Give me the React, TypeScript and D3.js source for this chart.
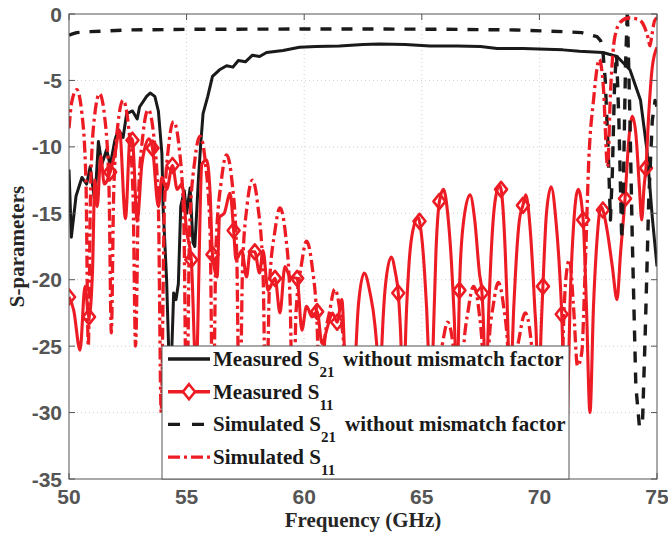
import React from 'react';
import * as d3 from 'd3';

const W = 668;
const H = 533;
const P = { left: 69, right: 657, top: 14, bottom: 479 };

const xTicks = [50, 55, 60, 65, 70, 75];
const yTicks = [0, -5, -10, -15, -20, -25, -30, -35];

// Measured S21 (black solid)
const measuredS21: [number, number][] = [
  [50.0, -11.7], [50.1, -16.8], [50.3, -13.7], [50.55, -12.3], [50.75, -12.8], [50.9, -11.5],
  [51.1, -14.2], [51.25, -9.6], [51.4, -11.3], [51.6, -10.2], [51.75, -11.4], [51.95, -9.5],
  [52.1, -8.7], [52.3, -9.3], [52.45, -7.5], [52.7, -7.3], [52.9, -7.9], [53.0, -7.0],
  [53.3, -6.2], [53.45, -5.95], [53.65, -6.2], [53.8, -7.3], [53.95, -10.5], [54.0, -14.5],
  [54.15, -20], [54.25, -26], [54.32, -28], [54.45, -21], [54.55, -21.5], [54.65, -20.3],
  [54.75, -14.5], [54.9, -13.3], [55.0, -15], [55.15, -13.1], [55.27, -17.2], [55.35, -17.5],
  [55.5, -12.5], [55.6, -9.8], [55.7, -7.5], [55.9, -6.2], [56.1, -4.7], [56.4, -4.2],
  [56.7, -3.9], [56.97, -4.0], [57.2, -3.5], [57.5, -3.6], [57.8, -3.1], [58.1, -3.2],
  [58.4, -2.9], [59.1, -2.75], [59.8, -2.5], [60.5, -2.45], [61.5, -2.4], [62.5, -2.3],
  [63.2, -2.25], [64.3, -2.3], [65.35, -2.4], [66.5, -2.4], [67.5, -2.45], [68.2, -2.6],
  [69.3, -2.6], [70.3, -2.65], [71.0, -2.7], [71.7, -2.8], [72.7, -2.9], [73.3, -3.2],
  [73.85, -4.2], [74.3, -6.5], [74.57, -10.2], [74.8, -15.3], [75.0, -19],
];

// Measured S11 (red solid, diamond markers)
const measuredS11: [number, number][] = [
  [50.0, -21.3], [50.2, -22.3], [50.47, -25.3], [50.68, -20.5], [50.85, -22.8], [51.0, -19.3],
  [51.1, -12.5], [51.2, -14.5], [51.35, -10.7], [51.5, -12.8], [51.75, -11.9], [51.95, -10.5],
  [52.15, -8.8], [52.4, -15.4], [52.6, -9.3], [52.7, -9.5], [52.9, -15.6], [53.1, -11.3],
  [53.4, -9.4], [53.55, -10.1], [53.8, -14.5], [53.95, -12.3], [54.15, -13.2], [54.4, -11.4],
  [54.6, -13.2], [54.8, -12.8], [55.0, -16.3], [55.2, -18.5], [55.4, -27], [55.65, -11.3],
  [55.85, -11.0], [56.0, -13.5], [56.1, -18.1], [56.3, -19.8], [56.4, -15.3], [56.6, -15.0],
  [56.85, -13.5], [57.0, -16.3], [57.1, -18.5], [57.35, -17.8], [57.55, -19.8], [57.7, -17.9],
  [57.9, -17.9], [58.1, -19.5], [58.25, -17.8], [58.46, -20.8], [58.76, -19.9], [58.97, -22.5],
  [59.18, -19.0], [59.4, -19.8], [59.7, -19.9], [59.9, -23.8], [60.1, -22.0], [60.33, -22.8],
  [60.55, -22.4], [60.76, -24.8], [61.0, -23.5], [61.2, -22.5], [61.4, -23.2], [61.6, -21.5],
  [61.75, -27], [61.95, -33], [62.15, -27], [62.3, -22], [62.55, -19.5], [62.8, -21],
  [63.0, -23.3], [63.12, -26], [63.2, -30], [63.3, -25], [63.45, -20.5], [63.7, -18.3],
  [63.88, -19.5], [64.0, -21], [64.12, -25], [64.22, -32], [64.3, -25], [64.45, -19],
  [64.62, -16.3], [64.85, -15.3], [64.9, -15.6], [65.1, -19], [65.27, -25], [65.37, -32],
  [65.48, -25], [65.6, -18], [65.75, -14.1], [65.92, -13.2], [66.1, -15], [66.3, -20],
  [66.42, -25], [66.5, -32], [66.55, -25], [66.6, -20.8], [66.75, -16], [67.05, -13.6],
  [67.25, -15.5], [67.45, -19.5], [67.56, -21], [67.65, -25], [67.72, -32], [67.8, -25],
  [67.95, -18], [68.1, -14.3], [68.3, -12.9], [68.37, -13.2], [68.55, -18], [68.68, -25],
  [68.76, -32], [68.85, -25], [69.0, -19], [69.15, -15.5], [69.3, -14.4], [69.42, -13.6],
  [69.6, -16], [69.8, -22], [69.88, -25], [69.95, -32], [70.05, -25], [70.15, -20.5],
  [70.3, -15], [70.5, -13], [70.7, -15.5], [70.88, -20], [70.95, -22.6], [71.02, -27],
  [71.1, -38], [71.2, -30], [71.3, -22], [71.45, -16], [71.65, -13.2], [71.86, -15.5],
  [72.0, -22], [72.15, -30], [72.3, -22], [72.45, -17], [72.62, -14.5], [72.7, -14.75],
  [72.9, -16.5], [73.1, -19], [73.3, -21.5], [73.45, -18], [73.64, -13.9], [73.8, -9.5],
  [73.95, -7.7], [74.1, -9], [74.25, -13], [74.35, -15.5], [74.45, -13], [74.53, -11.6],
  [74.65, -7.5], [74.8, -4], [75.0, -2.5],
];

const measuredS11Markers: [number, number][] = [
  [50.0, -21.3], [50.85, -22.8], [51.75, -11.9], [52.7, -9.5], [53.55, -10.1], [54.4, -11.4],
  [55.2, -18.5], [56.1, -18.1], [57.0, -16.3], [57.9, -17.9], [58.76, -19.9], [59.7, -19.9],
  [60.55, -22.4], [61.4, -23.2], [64.0, -21], [64.9, -15.6], [65.75, -14.1], [66.6, -20.8],
  [67.56, -21], [68.37, -13.2], [69.3, -14.4], [70.15, -20.5], [70.95, -22.6], [71.86, -15.5],
  [72.7, -14.75], [73.64, -13.9], [74.53, -11.6],
];

// Simulated S21 (black dashed)
const simulatedS21: [number, number][] = [
  [50.0, -1.6], [50.15, -1.5], [50.33, -1.4], [50.9, -1.33], [52.5, -1.2], [55.5, -1.15],
  [60.0, -1.13], [63.0, -1.13], [66.0, -1.15], [69.0, -1.2], [71.0, -1.33], [71.8, -1.4],
  [72.45, -1.7], [72.6, -2.0], [72.7, -2.8], [72.8, -5], [72.92, -10], [73.02, -15.5],
  [73.1, -12], [73.2, -5], [73.28, -3], [73.38, -8], [73.5, -17], [73.58, -12],
  [73.66, -4], [73.74, 0.3], [73.85, -8], [73.95, -17], [74.1, -28], [74.25, -31],
  [74.38, -31], [74.5, -24], [74.65, -14], [74.8, -8], [74.92, -6.5], [75.0, -7],
];

// Simulated S11 (red dash-dot)
const simulatedS11: [number, number][] = [
  [50.0, -8.6], [50.12, -6.6], [50.33, -5.7], [50.55, -7.5], [50.72, -12.5], [50.82, -25],
  [50.92, -13], [51.08, -7.8], [51.3, -6.0], [51.52, -7.8], [51.7, -13], [51.8, -24],
  [51.9, -13.5], [52.08, -8.3], [52.3, -6.5], [52.52, -8.3], [52.72, -13.5], [52.83, -25],
  [52.95, -14], [53.15, -9], [53.37, -7.2], [53.6, -9.1], [53.8, -14.5], [53.92, -30],
  [54.05, -15], [54.23, -10], [54.45, -8.1], [54.68, -10], [54.88, -15.5], [55.0, -31],
  [55.13, -16], [55.35, -11], [55.57, -9.2], [55.8, -11.2], [56.0, -16.5], [56.12, -32],
  [56.25, -17.5], [56.48, -12.5], [56.7, -10.6], [56.93, -12.6], [57.13, -18], [57.25, -32],
  [57.38, -19], [57.58, -14.3], [57.8, -12.5], [58.02, -14.3], [58.25, -19.5], [58.38, -32],
  [58.52, -20.5], [58.75, -16.4], [58.97, -14.6], [59.2, -16.5], [59.4, -21.5], [59.53, -33],
  [59.65, -22.5], [59.88, -18.9], [60.1, -17.1], [60.33, -18.9], [60.55, -23.5], [60.7, -33],
  [60.85, -25], [61.08, -22.4], [61.3, -20.7], [61.52, -22.4], [61.75, -27], [61.88, -34],
  [62.0, -30], [62.23, -27.8], [62.45, -26], [62.68, -28], [62.9, -32], [63.02, -36],
  [63.15, -32], [63.38, -29.5], [63.6, -28], [63.83, -29.5], [64.05, -33], [64.2, -37],
  [64.35, -33], [64.58, -30], [64.8, -28.5], [65.05, -30], [65.28, -33], [65.45, -37],
  [65.6, -28], [65.88, -24.8], [66.1, -23.2], [66.32, -24.8], [66.5, -29], [66.62, -36],
  [66.75, -26], [66.98, -22.2], [67.2, -20.5], [67.42, -22.2], [67.62, -27], [67.73, -36],
  [67.85, -25], [68.05, -21.8], [68.25, -20.2], [68.47, -21.9], [68.68, -26], [68.82, -36],
  [68.97, -27], [69.18, -24], [69.4, -22.5], [69.62, -24.2], [69.82, -29], [69.95, -36],
  [70.1, -30], [70.35, -27.5], [70.55, -27], [70.75, -30], [70.88, -36], [71.0, -25],
  [71.15, -19.5], [71.28, -18.5], [71.45, -22], [71.62, -26.5], [71.8, -25.5], [71.95, -19],
  [72.1, -11], [72.3, -6.5], [72.55, -3.4], [72.72, -5.5], [72.9, -11.5], [73.02, -6],
  [73.2, -1.8], [73.45, -0.6], [73.8, -0.3], [74.2, -0.4], [74.45, -0.9], [74.62, -1.8],
  [74.7, -2.4], [74.78, -1.6], [74.9, -0.5], [75.0, -0.3],
];

const RED = '#ed1c24';
const BLACK = '#1a1a1a';

const legendItems = [
  { main: 'Measured S', sub: '21', tail: 'without mismatch factor', tailX: 343, color: BLACK, dash: null, marker: false },
  { main: 'Measured S', sub: '11', tail: '', tailX: 0, color: RED, dash: null, marker: true },
  { main: 'Simulated S', sub: '21', tail: 'without mismatch factor', tailX: 345, color: BLACK, dash: '12,12', marker: false },
  { main: 'Simulated S', sub: '11', tail: '', tailX: 0, color: RED, dash: '12,4,3,4', marker: false },
];

const diamond = 'M0,-7.5L6,0L0,7.5L-6,0Z';

export default function App() {
  const x = d3.scaleLinear().domain([50, 75]).range([P.left, P.right]);
  const y = d3.scaleLinear().domain([-35, 0]).range([P.bottom, P.top]);

  const lin = d3.line<[number, number]>().x((d) => x(d[0])).y((d) => y(d[1]));
  const smooth = d3
    .line<[number, number]>()
    .x((d) => x(d[0]))
    .y((d) => y(d[1]))
    .curve(d3.curveMonotoneX);

  const tickFont = { fontFamily: 'Liberation Sans, Arial, sans-serif', fontWeight: 700, fontSize: 21, fill: '#555' };
  const serif = 'Liberation Serif, Times New Roman, serif';

  return (
    <svg width={W} height={H} style={{ position: 'absolute', left: 0, top: 0, background: '#fff' }}>
      <defs>
        <clipPath id="plot">
          <rect x={P.left} y={P.top} width={P.right - P.left} height={P.bottom - P.top} />
        </clipPath>
      </defs>

      {/* grid */}
      <g stroke="#cfcfcf" strokeWidth={1} strokeDasharray="1,3">
        {xTicks.slice(1, -1).map((t) => (
          <line key={'gx' + t} x1={x(t)} x2={x(t)} y1={P.top} y2={P.bottom} />
        ))}
        {yTicks.slice(1, -1).map((t) => (
          <line key={'gy' + t} x1={P.left} x2={P.right} y1={y(t)} y2={y(t)} />
        ))}
      </g>

      <g clipPath="url(#plot)" fill="none" strokeLinejoin="round">
        <path d={lin(measuredS21) || ''} stroke={BLACK} strokeWidth={3} />
        <path d={smooth(measuredS11) || ''} stroke={RED} strokeWidth={3.1} />
        {measuredS11Markers.map((d, i) => (
          <path key={i} d={diamond} transform={`translate(${x(d[0])},${y(d[1])})`} stroke={RED} strokeWidth={2.6} fill="none" />
        ))}
        <path d={lin(simulatedS21) || ''} stroke={BLACK} strokeWidth={3.4} strokeDasharray="11,10" />
        <path d={smooth(simulatedS11) || ''} stroke={RED} strokeWidth={3.3} strokeDasharray="12,4,3,4" />
      </g>

      {/* axes box and ticks */}
      <rect x={P.left} y={P.top} width={P.right - P.left} height={P.bottom - P.top} fill="none" stroke="#555" strokeWidth={1} />
      <g stroke="#555" strokeWidth={1}>
        {xTicks.map((t) => (
          <g key={'tx' + t}>
            <line x1={x(t)} x2={x(t)} y1={P.bottom} y2={P.bottom - 6} />
            <line x1={x(t)} x2={x(t)} y1={P.top} y2={P.top + 6} />
          </g>
        ))}
        {yTicks.map((t) => (
          <g key={'ty' + t}>
            <line x1={P.left} x2={P.left + 6} y1={y(t)} y2={y(t)} />
            <line x1={P.right} x2={P.right - 6} y1={y(t)} y2={y(t)} />
          </g>
        ))}
      </g>

      {/* legend */}
      <g>
        <rect x={162} y={346} width={407} height={133} fill="#fff" stroke="#555" strokeWidth={1} />
        {legendItems.map((it, i) => {
          const base = 366 + i * 32.7;
          const ly = base - 7;
          return (
            <g key={i}>
              <line x1={168} x2={210} y1={ly} y2={ly} stroke={it.color} strokeWidth={3.4} strokeDasharray={it.dash || undefined} />
              {it.marker && <path d={diamond} transform={`translate(189,${ly})`} stroke={RED} strokeWidth={2.6} fill="#fff" />}
              <text x={213} y={base} fontFamily={serif} fontWeight={700} fontSize={21} fill={BLACK}>
                {it.main}
                <tspan fontSize={15} dy={11}>{it.sub}</tspan>
              </text>
              {it.tail && (
                <text x={it.tailX} y={base} fontFamily={serif} fontWeight={700} fontSize={21} fill={BLACK}>
                  {it.tail}
                </text>
              )}
            </g>
          );
        })}
      </g>

      {/* tick labels */}
      {xTicks.map((t) => (
        <text key={'lx' + t} x={x(t)} y={504} textAnchor="middle" {...tickFont}>
          {t}
        </text>
      ))}
      {yTicks.map((t) => (
        <text key={'ly' + t} x={62} y={y(t) + 7.5} textAnchor="end" {...tickFont}>
          {t}
        </text>
      ))}

      <text x={(P.left + P.right) / 2} y={527} textAnchor="middle" fontFamily={serif} fontWeight={700} fontSize={21} fill="#262626">
        Frequency (GHz)
      </text>
      <text
        transform={`translate(24,${(P.top + P.bottom) / 2}) rotate(-90)`}
        textAnchor="middle"
        fontFamily={serif}
        fontWeight={700}
        fontSize={21}
        fill="#262626"
      >
        S-parameters
      </text>
    </svg>
  );
}
